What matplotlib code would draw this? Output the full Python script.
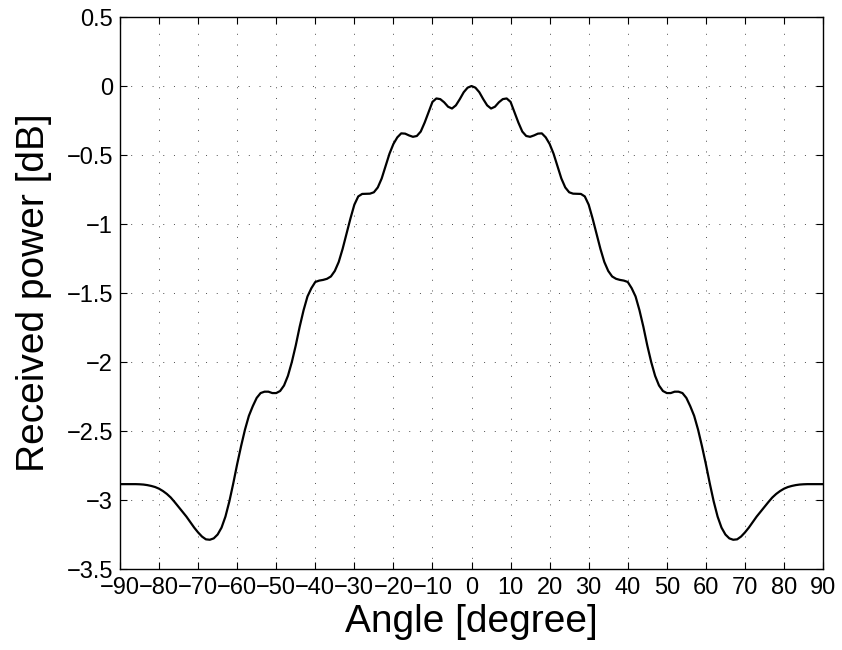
import matplotlib.pyplot as plt

plt.rcParams['font.family'] = ['Liberation Sans', 'DejaVu Sans']

# Angles in degrees, 1 degree steps from -90 to 90
angle = list(range(-90, 91))

# Received power in dB for 0..90 degrees
power_pos = [
    0.000, -0.012, -0.045, -0.095, -0.140, -0.163, -0.150, -0.118, -0.095, -0.090,
    -0.115, -0.190, -0.265, -0.330, -0.362, -0.368, -0.358, -0.345, -0.343, -0.372,
    -0.420, -0.490, -0.580, -0.670, -0.735, -0.770, -0.780, -0.781, -0.782, -0.800,
    -0.860, -0.960, -1.070, -1.180, -1.275, -1.340, -1.380, -1.397, -1.405, -1.410,
    -1.420, -1.465, -1.525, -1.625, -1.745, -1.880, -2.000, -2.100, -2.170, -2.210,
    -2.225, -2.225, -2.215, -2.215, -2.225, -2.260, -2.320, -2.390, -2.490, -2.610,
    -2.740, -2.880, -3.010, -3.120, -3.200, -3.250, -3.278, -3.288, -3.285, -3.265,
    -3.235, -3.200, -3.160, -3.120, -3.085, -3.050, -3.015, -2.982, -2.956, -2.935,
    -2.918, -2.906, -2.898, -2.892, -2.888, -2.886, -2.885, -2.885, -2.885, -2.885,
    -2.885,
]
# pattern is symmetric about broadside
power = power_pos[:0:-1] + power_pos

xticks = list(range(-90, 91, 10))
yticks = [-3.5, -3, -2.5, -2, -1.5, -1, -0.5, 0, 0.5]

fig = plt.figure(figsize=(8.42, 6.5), dpi=100)
ax = fig.add_axes([0.1425, 0.1246, 0.835, 0.8492])

ax.plot(angle, power, color='black', linewidth=1.6)

ax.set_xlim(-90, 90)
ax.set_ylim(-3.5, 0.5)
ax.set_xticks(xticks)
ax.set_yticks(yticks)
ax.set_yticklabels([f'{v:g}'.replace('-', '\u2212') for v in yticks])
ax.set_xticklabels([f'{v:g}'.replace('-', '\u2212') for v in xticks])

ax.grid(True, color='0.3', linestyle=(0, (1, 10)), linewidth=0.7)
ax.tick_params(direction='in', top=True, right=True, length=5, width=0.8,
               labelsize=17)
ax.tick_params(axis='x', pad=6)
ax.tick_params(axis='y', pad=5)
for s in ax.spines.values():
    s.set_linewidth(1.0)

ax.set_xlabel('Angle [degree]', fontsize=28, labelpad=3)
ax.set_ylabel('Received power [dB]', fontsize=28)
ax.yaxis.set_label_coords(-0.097, 0.5)

fig.savefig('out.png', dpi=100)
